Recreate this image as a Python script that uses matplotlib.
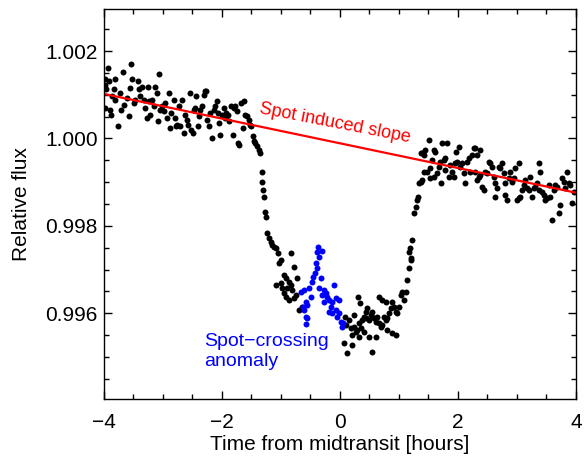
"""
Transit light curve with spot-crossing anomaly
Writes out.png
"""

import matplotlib.pyplot as plt
from matplotlib.ticker import MultipleLocator

plt.rcParams['font.family'] = ['Liberation Sans', 'DejaVu Sans']

# out-of-transit, before ingress (hours, relative flux)
pre_t = [-3.932, -3.99, -3.92, -3.836, -3.985, -3.966, -3.864, -3.99, -3.892, -3.875,
         -3.762, -3.808, -3.819, -3.723, -3.683, -3.706, -3.666, -3.61, -3.582, -3.536,
         -3.525, -3.553, -3.497, -3.469, -3.423, -3.412, -3.384, -3.356, -3.327, -3.299,
         -3.271, -3.254, -3.243, -3.214, -3.186, -3.158, -3.13, -3.101, -3.084, -3.062,
         -3.045, -3.017, -2.988, -2.96, -2.932, -2.904, -2.875, -2.858, -2.819, -2.802,
         -2.779, -2.762, -2.734, -2.706, -2.678, -2.649, -2.621, -2.593, -2.576, -2.536,
         -2.52, -2.497, -2.48, -2.452, -2.44, -2.406, -2.395, -2.367, -2.339, -2.31,
         -2.293, -2.271, -2.254, -2.226, -2.197, -2.169, -2.141, -2.113, -2.084, -2.067,
         -2.045, -2.028, -2.0, -1.971, -1.954, -1.932, -1.898, -1.876, -1.842, -1.819,
         -1.802, -1.774, -1.746, -1.729, -1.706, -1.672, -1.649, -1.632, -1.604, -1.576,
         -1.548, -1.519, -1.502, -1.48, -1.463, -1.435, -1.406, -1.378, -1.35]
pre_f = [1.001618, 1.001350, 1.001312, 1.001136, 1.001235, 1.001121, 1.000968, 1.000700, 1.000662, 1.000547,
         1.000294, 1.001350, 1.000892, 1.001044, 1.001518, 1.000662, 1.000777, 1.000930, 1.000509, 1.001694,
         1.001365, 1.001159, 1.000815, 1.000892, 1.001312, 1.001121, 1.000968, 1.001182, 1.000892, 1.000700,
         1.000471, 1.001182, 1.000853, 1.000547, 1.000892, 1.000739, 1.001182, 1.001044, 1.000394, 1.001465,
         1.000662, 1.000739, 1.000624, 1.000815, 1.000471, 1.001044, 1.000242, 1.000586, 1.000892, 1.000471,
         1.000280, 1.000318, 1.000739, 1.000280, 1.000892, 1.000127, 1.000547, 1.000433, 1.000318, 1.001044,
         1.000203, 1.000127, 1.000662, 1.000700, 1.000968, 1.000280, 1.000509, 1.000662, 1.000739, 1.001006,
         1.001083, 1.001083, 1.000433, 1.000280, 1.000586, 1.000012, 1.000662, 1.000739, 1.000853, 1.000586,
         1.000356, 1.000089, 1.000547, 1.000700, 1.000471, 1.000586, 1.000547, 1.000394, 1.000739, 1.000089,
         1.000700, 1.000739, 1.000624, 0.999898, 0.999859, 1.000815, 1.000242, 1.000853, 1.000547, 1.000509,
         1.000433, 1.000318, 1.000280, 1.000050, 0.999936, 0.999898, 0.999821, 0.999745, 0.999668]

# ingress and in-transit (black)
dip_t = [-1.313, -1.313, -1.301, -1.284, -1.267, -1.245,
         -1.228, -1.199, -1.171, -1.143, -1.115, -1.087, -1.041, -1.002, -1.030, -0.833,
         -0.776, -0.946, -0.917, -0.720, -0.861, -1.087, -1.002, -0.833, -0.805, -0.946,
         -0.889, -0.748, -0.861, -0.776, -0.692, -0.635, -0.917, -0.985,
         0.087, 0.154, 0.098, 0.183, 0.239, 0.267, 0.323, 0.239, 0.312, 0.335,
         0.380, 0.408, 0.436, 0.465, 0.448, 0.493, 0.521, 0.549, 0.577, 0.605,
         0.634, 0.662, 0.690, 0.718, 0.746, 0.775, 0.803, 0.831, 0.859, 0.662,
         0.718, 0.775, 0.887, 0.916, 0.944, 1.000, 1.028, 1.057, 1.113, 1.085,
         1.141, 1.169, 1.198, 0.323, 0.493, 0.605, 0.887, 0.944, 0.070, 0.211,
         0.126, 0.549, 0.972, 0.803, 0.352, 0.408, 0.211, 0.295]
dip_f = [0.999241, 0.999012, 0.998822, 0.998670, 0.998326, 0.998211,
         0.997830, 0.997715, 0.997639, 0.997563, 0.997525, 0.997487, 0.997372, 0.997220, 0.997143, 0.997372,
         0.997067, 0.996876, 0.996800, 0.996800, 0.996724, 0.996648, 0.996686, 0.996648, 0.996533, 0.996457,
         0.996571, 0.996419, 0.996304, 0.996342, 0.996075, 0.996152, 0.996381, 0.996571,
         0.995923, 0.995847, 0.995732, 0.995656, 0.995694, 0.995580, 0.995770, 0.995961, 0.996381, 0.996243,
         0.995847, 0.995923, 0.996037, 0.996114, 0.995885, 0.995847, 0.995961, 0.996037, 0.995885, 0.995808,
         0.995923, 0.995770, 0.995694, 0.995732, 0.995923, 0.995847, 0.995885, 0.995999, 0.996114, 0.996381,
         0.996304, 0.996266, 0.996266, 0.996152, 0.996037, 0.996152, 0.996419, 0.996495, 0.996495, 0.996304,
         0.996762, 0.997029, 0.997220, 0.995465, 0.995465, 0.995465, 0.995541, 0.995503, 0.995313, 0.995274,
         0.995084, 0.995122, 0.995999, 0.995618, 0.995656, 0.995580, 0.995503, 0.995618]

# egress and out-of-transit after
post_t = [1.226, 1.197, 1.169, 1.214, 1.254, 1.282, 1.310, 1.327, 1.338, 1.367,
          1.395, 1.367, 1.395, 1.423, 1.451, 1.423, 1.479, 1.536, 1.508, 1.564,
          1.592, 1.620, 1.536, 1.592, 1.649, 1.677, 1.705, 1.722, 1.733, 1.761,
          1.790, 1.818, 1.790, 1.846, 1.874, 1.902, 1.931, 1.959, 1.970, 1.987,
          2.015, 2.043, 2.072, 2.100, 2.128, 2.156, 2.184, 2.213, 2.241, 2.269,
          2.297, 2.325, 2.382, 2.297, 2.325, 2.354, 2.382, 2.410, 2.438, 2.466,
          2.495, 2.523, 2.551, 2.579, 2.607, 2.624, 2.636, 2.664, 2.692, 2.720,
          2.748, 2.777, 2.794, 2.805, 2.833, 2.861, 2.889, 2.918, 2.946, 2.974,
          3.002, 3.030, 3.042, 3.059, 3.087, 3.115, 3.143, 3.171, 3.200, 3.228,
          3.256, 3.284, 3.312, 3.341, 3.369, 3.380, 3.397, 3.425, 3.453, 3.482,
          3.510, 3.538, 3.566, 3.594, 3.623, 3.651, 3.679, 3.707, 3.735, 3.764,
          3.792, 3.820, 3.848, 3.877, 3.905, 3.933, 3.961]
post_f = [0.997677, 0.997487, 0.997410, 0.997258, 0.998288, 0.998440, 0.998593, 0.998669, 0.998974, 0.999012,
          0.999050, 0.999661, 0.999676, 0.999622, 0.999737, 0.999241, 0.999241, 0.999317, 0.999966, 0.999508,
          0.999737, 0.999699, 0.999088, 0.999127, 0.999203, 0.999355, 0.999470, 0.998974, 0.999889, 0.999508,
          0.999546, 0.999905, 0.999279, 0.999127, 0.999394, 0.999241, 0.999127, 0.999432, 0.999699, 0.999470,
          0.999813, 0.999355, 0.999432, 0.999203, 0.998974, 0.999470, 0.999546, 0.999241, 0.999622, 0.999775,
          0.999775, 0.999622, 0.999737, 0.999241, 0.999050, 0.999127, 0.999165, 0.998898, 0.998822, 0.999241,
          0.999203, 0.999470, 0.999432, 0.999355, 0.999127, 0.998669, 0.998974, 0.998860, 0.999355, 0.999317,
          0.999432, 0.999203, 0.998707, 0.998974, 0.998593, 0.999088, 0.999241, 0.999012, 0.999088, 0.999317,
          0.998593, 0.998631, 0.999432, 0.998669, 0.998822, 0.998936, 0.999050, 0.998860, 0.998822, 0.999127,
          0.998669, 0.998860, 0.998898, 0.998974, 0.998822, 0.999432, 0.999241, 0.998783, 0.998707, 0.998593,
          0.998631, 0.998936, 0.998669, 0.998135, 0.998822, 0.998936, 0.998898, 0.998288, 0.998478, 0.999088,
          0.999012, 0.998860, 0.999241, 0.998974, 0.998936, 0.998516, 0.998783]

# spot-crossing anomaly (blue)
spot_t = [-0.365, -0.297, -0.382, -0.353, -0.410, -0.393, -0.421, -0.455, -0.325, -0.466,
          -0.523, -0.607, -0.664, -0.353, -0.269, -0.240, -0.297, -0.212, -0.100, -0.184,
          -0.128, -0.071, -0.015, -0.269, -0.579, -0.494, -0.551, -0.624, -0.607, -0.156,
          -0.071, -0.015, -0.579, -0.551, -0.579, -0.184, -0.128, -0.043, 0.013, 0.041, 0.053]
spot_f = [0.997525, 0.997433, 0.997410, 0.997296, 0.997143, 0.997029, 0.996915, 0.996838, 0.996800, 0.996724,
          0.996571, 0.996533, 0.996495, 0.996571, 0.996533, 0.996457, 0.996419, 0.996381, 0.996648, 0.996304,
          0.996266, 0.996342, 0.996304, 0.996266, 0.996266, 0.996381, 0.996190, 0.996136, 0.996075, 0.996152,
          0.996075, 0.995999, 0.995923, 0.995885, 0.995755, 0.996037, 0.996014, 0.995923, 0.995808, 0.995694, 0.995770]

# spot induced slope, end points
slope_t = [-4.0, 4.0]
slope_f = [1.00102, 0.99876]

fig = plt.figure(figsize=(5.84, 4.58), dpi=100)
ax = fig.add_axes([0.178, 0.129, 0.808, 0.852])

dot = dict(marker='o', linestyle='none', markersize=4.3, markeredgewidth=0)
ax.plot(pre_t, pre_f, color='black', **dot)
ax.plot(dip_t, dip_f, color='black', **dot)
ax.plot(post_t, post_f, color='black', **dot)
ax.plot(spot_t, spot_f, color='#0000ff', **dot)
ax.plot(slope_t, slope_f, color='#ff0000', linewidth=1.6)

ax.text(-0.08, 1.000355, 'Spot induced slope', color='#ff0000', fontsize=13,
        rotation=-11, ha='center', va='center', rotation_mode='anchor')
ax.text(-2.30, 0.99513, 'Spot\u2212crossing\nanomaly', color='#0000ff', fontsize=14,
        ha='left', va='center', linespacing=1.2)

ax.set_xlim(-4, 4)
ax.set_ylim(0.99404, 1.00297)
ax.xaxis.set_major_locator(MultipleLocator(2))
ax.xaxis.set_minor_locator(MultipleLocator(0.5))
ax.yaxis.set_major_locator(MultipleLocator(0.002))
ax.yaxis.set_minor_locator(MultipleLocator(0.0005))
ax.yaxis.set_major_formatter(plt.FormatStrFormatter('%.3f'))
ax.tick_params(which='both', direction='in', top=True, right=True, labelsize=15, width=1)
ax.tick_params(which='major', length=6)
ax.tick_params(which='minor', length=3.5)
ax.tick_params(axis='x', which='major', pad=10)
ax.tick_params(axis='y', which='major', pad=4.5)
for s in ax.spines.values():
    s.set_linewidth(1)

ax.set_xlabel('Time from midtransit [hours]', fontsize=15, labelpad=2)
ax.set_ylabel('Relative flux', fontsize=15, labelpad=10)

plt.savefig('out.png', dpi=100, facecolor='white')
plt.close()
